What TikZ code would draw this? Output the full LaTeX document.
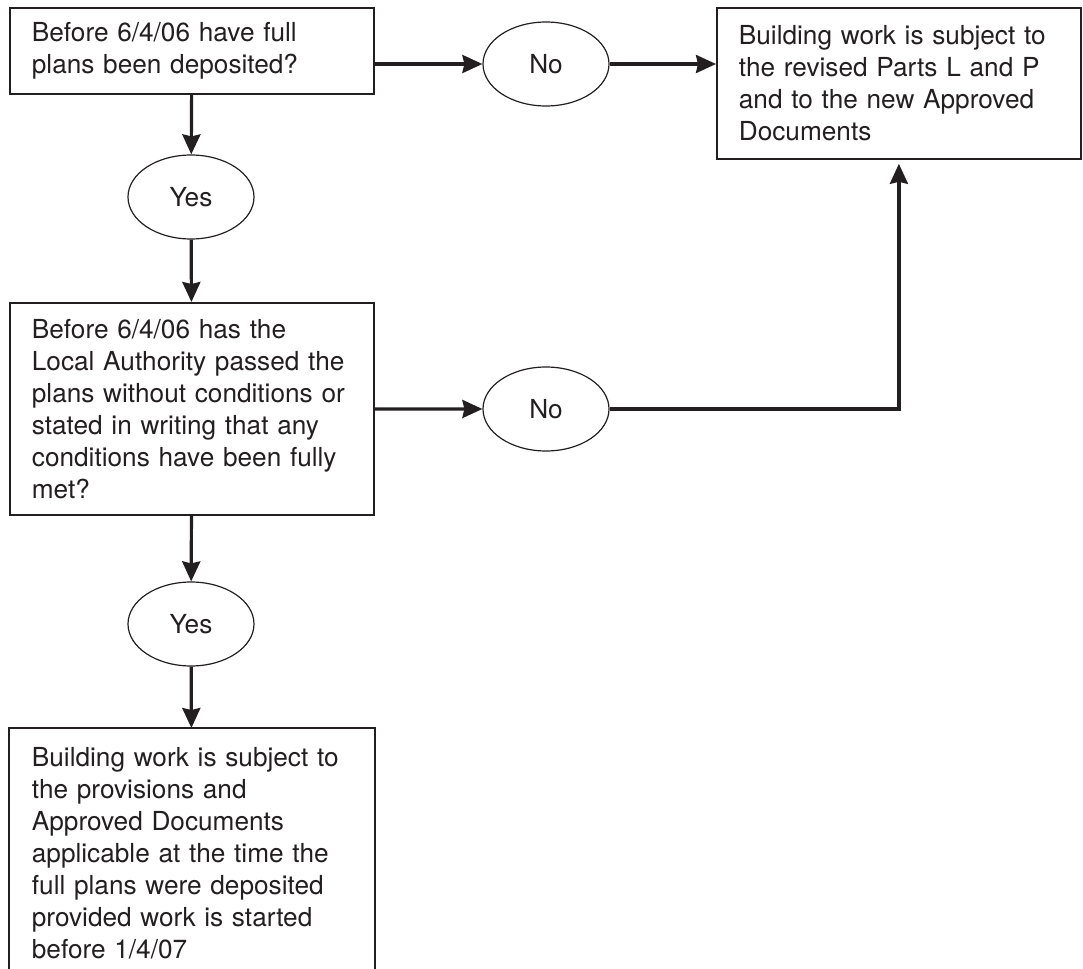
\documentclass[tikz,border=0pt]{standalone}
\usepackage{fontspec}
\setmainfont{TeX Gyre Heros}
\usetikzlibrary{arrows.meta,shapes.geometric}
\definecolor{ink}{HTML}{231F20}

\begin{document}
\begin{tikzpicture}[x=0.5pt,y=-0.5pt,
    font=\fontsize{13.1}{16}\selectfont, color=ink,
    question/.style={draw, line width=0.9pt, text width=160pt, align=left,
        inner xsep=11pt, inner ysep=0pt, anchor=north west},
    answer/.style={draw, ellipse, line width=0.6pt, minimum width=63pt,
        minimum height=42pt, inner sep=0pt},
    flow/.style={line width=1.6pt, -{Stealth[length=10pt, width=9pt, inset=1pt]}}]
    \useasboundingbox (0,0) rectangle (1083,969);
    \node[question, minimum height=43pt] (deposited) at (9,7)
        {Before 6/4/06 have full\\plans been deposited?};
    \node[answer] (nodep) at (546,64) {No};
    \node[question, minimum height=75.5pt] (revised) at (716,7)
        {Building work is subject to\\the revised Parts L and P\\and to the new Approved\\Documents};
    \node[answer] (yesdep) at (191,197) {Yes};
    \node[question, minimum height=106pt] (passed) at (9,302)
        {Before 6/4/06 has the\\Local Authority passed the\\plans without conditions or\\stated in writing that any\\conditions have been fully\\met?};
    \node[answer] (nopass) at (546,409) {No};
    \node[answer] (yespass) at (191,624) {Yes};
    % last box runs off the bottom of the page
    \node[question, draw=none, inner ysep=9pt] (provisions) at (9,728)
        {Building work is subject to\\the provisions and\\Approved Documents\\applicable at the time the\\full plans were deposited\\provided work is started\\before 1/4/07};
    \draw[line width=0.9pt] (provisions.south west) -- ++(0,-60) -- (provisions.north west)
        -- (provisions.north east) -- (provisions.south east) -- ++(0,-60);
    \draw[flow] (deposited.east |- nodep) -- (nodep);
    \draw[flow] (nodep) -- (nodep -| revised.west);
    \draw[flow] (deposited) -- (yesdep);
    \draw[flow] (yesdep) -- (passed);
    \draw[flow] (passed) -- (nopass);
    \draw[flow, shorten >=2pt] (nopass) -| (revised);
    \draw[flow] (passed) -- (yespass);
    \draw[flow] (yespass) -- (provisions);
\end{tikzpicture}
\end{document}
